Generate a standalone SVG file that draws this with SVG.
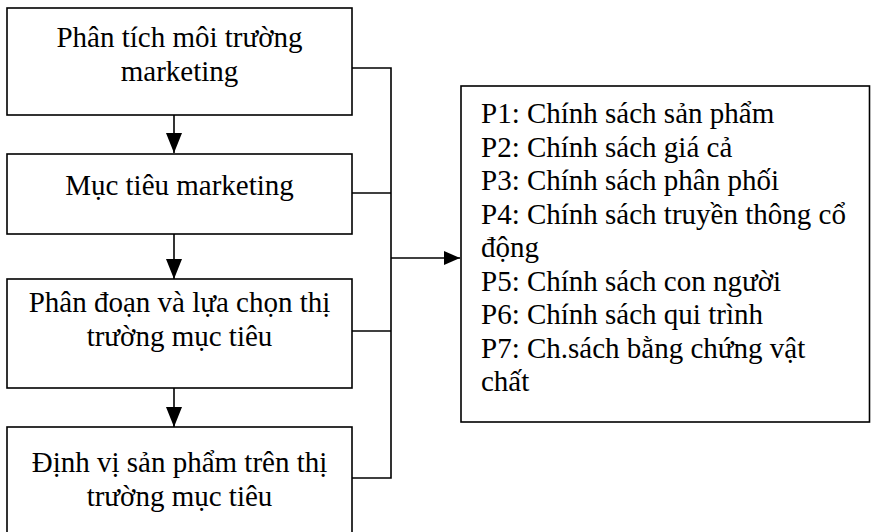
<svg xmlns="http://www.w3.org/2000/svg" width="871" height="532" viewBox="0 0 871 532">
  <style>
    .box { fill: #fff; stroke: #000; stroke-width: 1.6; }
    .t { font-family: 'Liberation Serif', 'Times New Roman', 'DejaVu Serif', serif; font-size: 29px; fill: #000; }
    .c { text-anchor: middle; }
    .ln { stroke: #000; stroke-width: 1.6; fill: none; }
  </style>
  <defs>
    <marker id="ah" viewBox="0 0 16 14" refX="16" refY="7" markerWidth="16" markerHeight="14" markerUnits="userSpaceOnUse" orient="auto">
      <path d="M0,0 L16,7 L0,14 Z" fill="#000"/>
    </marker>
    <marker id="ahd" viewBox="0 0 20 16" refX="20" refY="8" markerWidth="20" markerHeight="16" markerUnits="userSpaceOnUse" orient="auto">
      <path d="M0,0 L20,8 L0,16 Z" fill="#000"/>
    </marker>
  </defs>

  <g id="connectors">
    <line class="ln" x1="174" y1="115" x2="174" y2="153" marker-end="url(#ahd)"/>
    <line class="ln" x1="174" y1="234" x2="174" y2="279" marker-end="url(#ahd)"/>
    <line class="ln" x1="174" y1="388" x2="174" y2="427" marker-end="url(#ahd)"/>
    <polyline class="ln" points="352,68 391,68 391,478 352,478"/>
    <line class="ln" x1="352" y1="193" x2="391" y2="193"/>
    <line class="ln" x1="352" y1="331" x2="391" y2="331"/>
    <line class="ln" x1="391" y1="258" x2="460" y2="258" marker-end="url(#ah)"/>
  </g>

  <g font-family="Liberation Serif, serif">
  <g id="node1">
    <rect class="box" x="7" y="8" width="345" height="107"/>
    <text class="t c" x="179.5" y="47">Phân tích môi trường</text>
    <text class="t c" x="179.5" y="80.5">marketing</text>
  </g>
  <g id="node2">
    <rect class="box" x="7" y="154" width="345" height="80"/>
    <text class="t c" x="179.5" y="195">Mục tiêu marketing</text>
  </g>
  <g id="node3">
    <rect class="box" x="7" y="279" width="345" height="109"/>
    <text class="t c" x="179.5" y="312">Phân đoạn và lựa chọn thị</text>
    <text class="t c" x="179.5" y="345.5">trường mục tiêu</text>
  </g>
  <g id="node4">
    <rect class="box" x="7" y="427" width="345" height="110"/>
    <text class="t c" x="179.5" y="472">Định vị sản phẩm trên thị</text>
    <text class="t c" x="179.5" y="505.5">trường mục tiêu</text>
  </g>
  <g id="node5">
    <rect class="box" x="461" y="86" width="408.5" height="336"/>
    <text class="t" x="481" y="123">P1: Chính sách sản phẩm</text>
    <text class="t" x="481" y="156.5">P2: Chính sách giá cả</text>
    <text class="t" x="481" y="190">P3: Chính sách phân phối</text>
    <text class="t" x="481" y="223.5">P4: Chính sách truyền thông cổ</text>
    <text class="t" x="481" y="257">động</text>
    <text class="t" x="481" y="290.5">P5: Chính sách con người</text>
    <text class="t" x="481" y="324">P6: Chính sách qui trình</text>
    <text class="t" x="481" y="357.5">P7: Ch.sách bằng chứng vật</text>
    <text class="t" x="481" y="391">chất</text>
  </g>
  </g>
</svg>
